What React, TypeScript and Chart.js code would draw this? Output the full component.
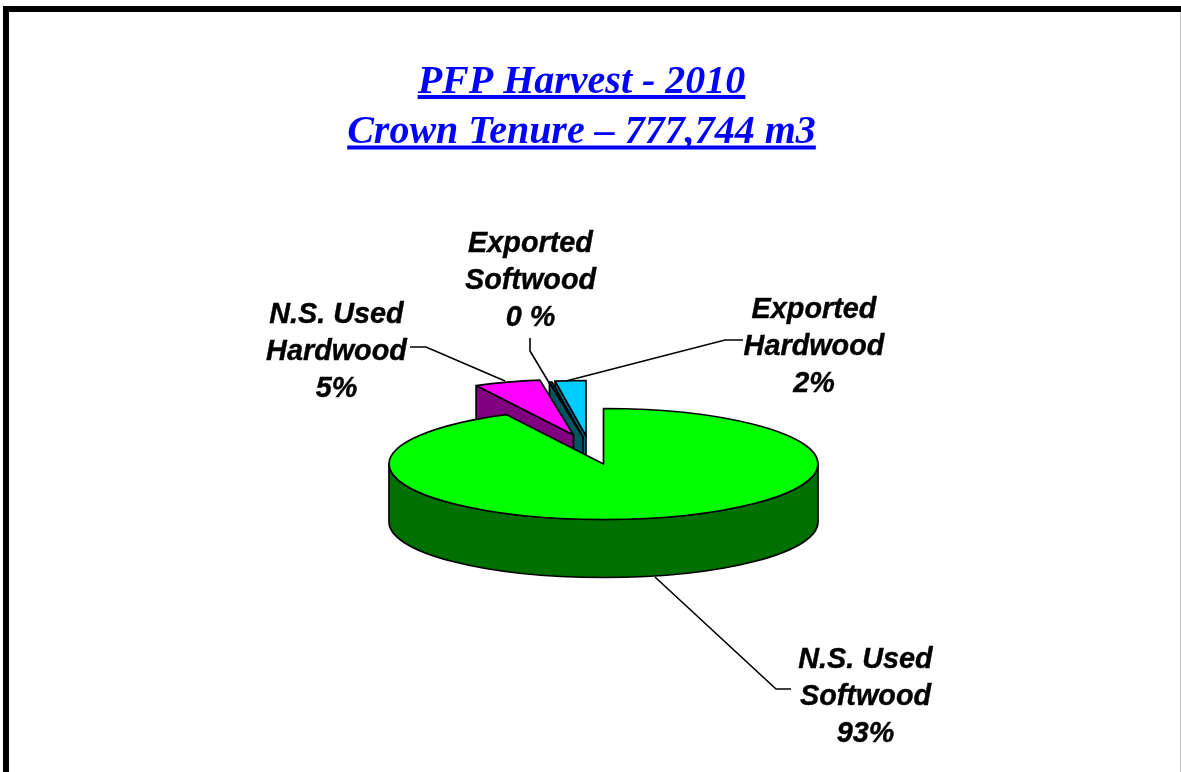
import React, { useEffect, useRef } from "react";
import { Chart, registerables } from "chart.js";

Chart.register(...registerables);

const titleLines = ["PFP Harvest - 2010", "Crown Tenure – 777,744 m3"];
const categories = ["N.S. Used Softwood", "N.S. Used Hardwood", "Exported Softwood", "Exported Hardwood"];
const sliceValues = [92.5, 5.0, 0.2, 2.3];
const labelLines = [
  ["N.S. Used", "Softwood", "93%"],
  ["N.S. Used", "Hardwood", "5%"],
  ["Exported", "Softwood", "0 %"],
  ["Exported", "Hardwood", "2%"],
];
const topColors = ["#00FF00", "#FF00FF", "#006070", "#00CCFF"];
const wallColors = ["#007000", "#800080", "#005560", "#006A90"];

const CX = 603.5;
const CY = 464;
const RX = 214.5;
const RY = 55.5;
const DEPTH = 58;
const explodeShift = [
  [0, 0],
  [-30, -29],
  [-20.5, -27],
  [-17.5, -28],
];
const labelCenters = [
  [865.5, 660],
  [336.5, 315],
  [530.5, 244],
  [814, 310],
];
const leaderPaths = [
  [[655, 577], [776, 689], [791, 689]],
  [[410, 347], [426, 347], [505, 381]],
  [[530, 338], [530, 351], [551, 386]],
  [[743, 340], [725, 340], [566, 381]],
];

const pie3d = {
  id: "pie3d",
  beforeDatasetsDraw(chart: any) {
    const ctx = chart.ctx as CanvasRenderingContext2D;
    const arcs = chart.getDatasetMeta(0).data;
    const squash = RY / RX;
    const pt = (el: any, i: number, a: number, r: number, dz = 0) => [
      CX + explodeShift[i][0] + Math.cos(a) * r * (RX / el.outerRadius),
      CY + explodeShift[i][1] + Math.sin(a) * r * (RY / el.outerRadius) + dz,
    ];
    const topPath = (el: any, i: number) => {
      ctx.beginPath();
      const c = pt(el, i, 0, 0);
      ctx.moveTo(c[0], c[1]);
      ctx.ellipse(c[0], c[1], RX, RY, 0, el.startAngle, el.endAngle);
      ctx.closePath();
    };
    ctx.save();
    ctx.lineJoin = "round";
    ctx.strokeStyle = "#000";
    ctx.lineWidth = 1.7;
    for (let i = arcs.length - 1; i >= 0; i--) {
      const el = arcs[i];
      // extruded sides
      ctx.fillStyle = wallColors[i];
      ctx.beginPath();
      if (i === 0) {
        ctx.ellipse(CX, CY, RX, RY, 0, 0, Math.PI);
        ctx.lineTo(CX - RX, CY + DEPTH);
        ctx.ellipse(CX, CY + DEPTH, RX, RY, 0, Math.PI, 0, true);
        ctx.closePath();
      } else {
        const a = pt(el, i, 0, 0);
        const b = pt(el, i, el.startAngle, el.outerRadius);
        ctx.moveTo(a[0], a[1]);
        ctx.lineTo(b[0], b[1]);
        ctx.lineTo(b[0], b[1] + DEPTH);
        ctx.lineTo(a[0], a[1] + DEPTH);
        ctx.closePath();
      }
      ctx.fill();
      ctx.stroke();
      // library arc, flattened, as the top face
      ctx.save();
      ctx.translate(CX + explodeShift[i][0], CY + explodeShift[i][1]);
      ctx.scale(RX / el.outerRadius, squash * (RX / el.outerRadius));
      ctx.translate(-el.x, -el.y);
      el.draw(ctx);
      ctx.restore();
      topPath(el, i);
      ctx.stroke();
    }
    ctx.restore();
    return false;
  },
  afterDraw(chart: any) {
    const ctx = chart.ctx as CanvasRenderingContext2D;
    ctx.save();
    // page frame
    ctx.strokeStyle = "#000";
    ctx.lineWidth = 6;
    ctx.strokeRect(6, 9, 1177.75, 800);
    // title underlines
    const tf = chart.options.plugins.title;
    ctx.font = `italic bold ${tf.font.size}px "Liberation Serif"`;
    ctx.strokeStyle = tf.color;
    ctx.lineWidth = 4;
    const tb = chart.titleBlock;
    const mid = (tb.left + tb.right) / 2;
    titleLines.forEach((t, i) => {
      const w = ctx.measureText(t).width;
      const y = 97 + i * 50.5;
      ctx.beginPath();
      ctx.moveTo(mid - w / 2, y);
      ctx.lineTo(mid + w / 2, y);
      ctx.stroke();
    });
    // leader lines
    ctx.strokeStyle = "#000";
    ctx.lineWidth = 1.6;
    leaderPaths.forEach((p) => {
      ctx.beginPath();
      p.forEach((q, i) => (i ? ctx.lineTo(q[0], q[1]) : ctx.moveTo(q[0], q[1])));
      ctx.stroke();
    });
    // data labels
    ctx.fillStyle = "#000";
    ctx.font = 'italic bold 28.8px "Liberation Sans"';
    ctx.textAlign = "center";
    ctx.textBaseline = "middle";
    ctx.lineWidth = 0.4;
    labelLines.forEach((lines, i) => {
      lines.forEach((s, j) => {
        ctx.fillText(s, labelCenters[i][0], labelCenters[i][1] + j * 36.8);
        ctx.strokeText(s, labelCenters[i][0], labelCenters[i][1] + j * 36.8);
      });
    });
    ctx.restore();
  },
};

export default function App() {
  const ref = useRef<HTMLCanvasElement | null>(null);
  useEffect(() => {
    const chart = new Chart(ref.current as HTMLCanvasElement, {
      type: "pie",
      data: {
        labels: categories,
        datasets: [
          {
            data: sliceValues,
            backgroundColor: topColors,
            borderWidth: 0,
            radius: RX,
          } as any,
        ],
      },
      options: {
        responsive: false,
        animation: false,
        layout: { padding: { right: 18 } },
        plugins: {
          legend: { display: false },
          tooltip: { enabled: false },
          title: {
            display: true,
            text: titleLines,
            color: "#0000FF",
            font: { family: '"Liberation Serif"', size: 40, weight: "bold", style: "italic", lineHeight: 1.25 },
            padding: { top: 58, bottom: 0 },
          },
        },
      },
      plugins: [pie3d],
    } as any);
    return () => chart.destroy();
  }, []);
  return (
    <div style={{ position: "absolute", left: 0, top: 0, width: 1181, height: 772, overflow: "hidden", background: "#fff" }}>
      <canvas ref={ref} width={1181} height={772} style={{ display: "block" }} />
    </div>
  );
}
